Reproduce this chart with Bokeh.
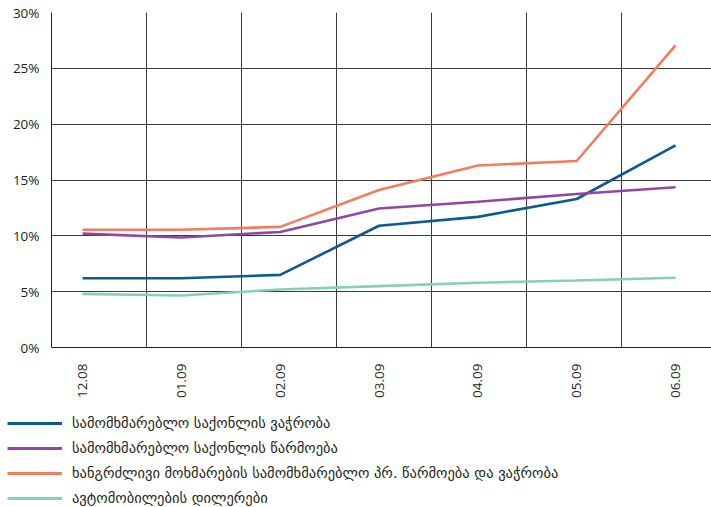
import math
from bokeh.plotting import figure
from bokeh.models import Range1d, FixedTicker, Legend, LegendItem, CustomJSTickFormatter
from bokeh.embed import file_html
from bokeh.resources import INLINE

months = ["12.08", "01.09", "02.09", "03.09", "04.09", "05.09", "06.09"]
trade = [6.2, 6.2, 6.5, 10.9, 11.7, 13.3, 18.1]
production = [10.2, 9.85, 10.35, 12.45, 13.05, 13.75, 14.35]
durable = [10.55, 10.55, 10.8, 14.1, 16.3, 16.7, 27.05]
dealers = [4.8, 4.65, 5.2, 5.5, 5.8, 6.0, 6.25]

labels = [
    "სამომხმარებლო საქონლის ვაჭრობა",
    "სამომხმარებლო საქონლის წარმოება",
    "ხანგრძლივი მოხმარების სამომხმარებლო პრ. წარმოება და ვაჭრობა",
    "ავტომობილების დილერები",
]
colors = ["#0d5a8e", "#9147a0", "#f47b60", "#86d0b4"]
yticks = [0, 5, 10, 15, 20, 25, 30]

x = list(range(len(months)))
series = [trade, production, durable, dealers]

# visible x window; the chart's 7 grid cells continue slightly past the right edge
x0, x1 = -0.314, 6.364
cell = (6.415 - x0) / 7

p = figure(width=711, height=400, output_backend="svg", toolbar_location=None,
           x_range=Range1d(x0, x1), y_range=Range1d(0, 30),
           min_border_left=51, min_border_top=12, min_border_right=0,
           min_border_bottom=50)

p.outline_line_color = None

# grid
p.xgrid.ticker = FixedTicker(ticks=[x0 + k * cell for k in range(1, 7)])
p.xgrid.grid_line_color = "#3a3a3a"
p.xgrid.grid_line_width = 1
p.ygrid.ticker = FixedTicker(ticks=yticks)
p.ygrid.grid_line_color = "#3a3a3a"
p.ygrid.grid_line_width = 1

# axes
p.xaxis.ticker = FixedTicker(ticks=x)
p.xaxis.major_label_overrides = {i: m for i, m in enumerate(months)}
p.xaxis.major_label_orientation = math.pi / 2
p.yaxis.ticker = FixedTicker(ticks=yticks)
p.yaxis.formatter = CustomJSTickFormatter(code="return tick.toFixed(0) + '%';")
for ax in (p.xaxis, p.yaxis):
    ax.major_tick_line_color = None
    ax.minor_tick_line_color = None
    ax.axis_line_color = "#222222"
    ax.major_label_text_font = "Open Sans"
    ax.major_label_text_font_size = "13.5px"
    ax.major_label_text_color = "#231f20"
p.yaxis.major_label_standoff = 6
p.xaxis.major_label_standoff = 10

for ys, c in zip(series, colors):
    p.line(x, ys, line_color=c, line_width=2.6)

# legend panel (separate root below the chart); its series lie outside its view
lg = figure(width=711, height=107, output_backend="svg", toolbar_location=None,
            x_range=Range1d(0, 1), y_range=Range1d(-2, -1),
            min_border=0, min_border_left=0, min_border_right=0,
            min_border_top=0, min_border_bottom=0)
lg.axis.visible = False
lg.grid.visible = False
lg.outline_line_color = None

items = []
for ys, lab, c in zip(series, labels, colors):
    r = lg.line(x, ys, line_color=c, line_width=3)
    items.append(LegendItem(label=lab, renderers=[r]))

legend = Legend(items=items, location=(7, 0), orientation="vertical",
                border_line_color=None, background_fill_alpha=0,
                padding=0, margin=0, spacing=7,
                glyph_width=55, glyph_height=18, label_standoff=10,
                label_text_font="DejaVu Sans", label_text_font_size="14.5px",
                label_text_color="#231f20")
lg.add_layout(legend, "center")

open("out.html", "w").write(file_html([p, lg], INLINE))
